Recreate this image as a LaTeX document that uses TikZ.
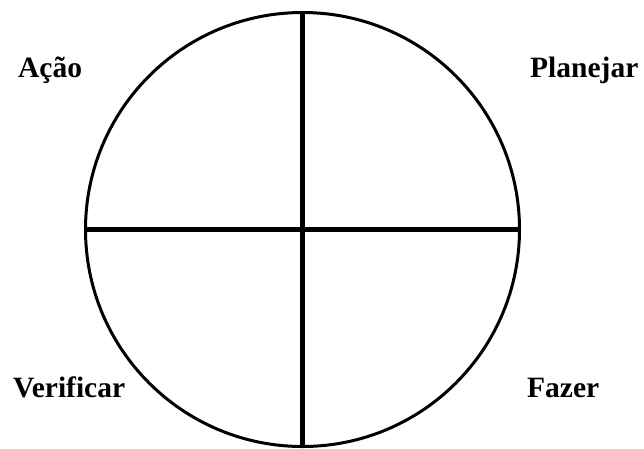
\documentclass[tikz,border=0pt]{standalone}
\usepackage{fontspec}
\setmainfont{Liberation Serif}
\begin{document}
\begin{tikzpicture}[x=1pt,y=-1pt,
  lbl/.style={inner sep=0pt, anchor=base west, font=\fontsize{29.5}{32}\selectfont\bfseries},
  ring/.style={circle, draw, line width=3pt, minimum size=434pt, inner sep=0pt, outer sep=0pt},
  cross/.style={line width=5.5pt}]
\useasboundingbox (0,0) rectangle (644,448);
\node[ring] (c) at (302.5,229.5) {};
\draw[cross] (c.north) -- (c.south);
\draw[cross] (c.west) -- (c.east);
\node[lbl] (acao) at (18,77) {Ação};
\node[lbl] (plan) at (530,77) {Planejar};
\node[lbl] (verif) at (13,397) {Verificar};
\node[lbl] (fazer) at (527,397) {Fazer};
\end{tikzpicture}
\end{document}
